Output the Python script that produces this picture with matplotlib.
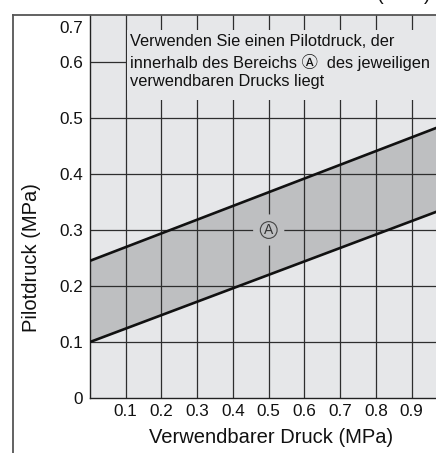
import matplotlib
matplotlib.use("Agg")
import matplotlib.pyplot as plt
from matplotlib.patches import Rectangle
from matplotlib.lines import Line2D

# ---- data ----
x_pressure = [0.0, 1.0]                 # Verwendbarer Druck (MPa)
lower_pilot = [0.10, 0.34]              # lower limit of pilot pressure
upper_pilot = [0.245, 0.49]             # upper limit of pilot pressure
x_ticks = [0.1, 0.2, 0.3, 0.4, 0.5, 0.6, 0.7, 0.8, 0.9]
x_ticklabels = ["0.1", "0.2", "0.3", "0.4", "0.5", "0.6", "0.7", "0.8", "0.9"]
y_ticklabels = ["0", "0.1", "0.2", "0.3", "0.4", "0.5", "0.6", "0.7"]
y_grid_full = [0.1, 0.2, 0.3, 0.4, 0.5]
note = ("Verwenden Sie einen Pilotdruck, der\n"
        "innerhalb des Bereichs \u24b6  des jeweiligen\n"
        "verwendbaren Drucks liegt")
region_label = "A"
region_pos = (0.5, 0.3)

FONT = ["Liberation Sans", "Noto Sans CJK JP", "DejaVu Sans"]
plt.rcParams["font.family"] = FONT

BG = "#e6e7e9"
BAND = "#bebfc1"
GRID = "#2e2e2e"
TXT = "#111111"

fig = plt.figure(figsize=(4.36, 4.53), dpi=100)
ax = fig.add_axes([90 / 436, 55 / 453, 346 / 436, 383 / 453])
ax.set_facecolor(BG)
XMAX = 0.968
YMAX = 0.684
ax.set_xlim(0, XMAX)
ax.set_ylim(0, YMAX)

# band
ax.fill_between(x_pressure, lower_pilot, upper_pilot, color=BAND, zorder=0.5, lw=0)

# grid
for yv in y_grid_full:
    ax.axhline(yv, color=GRID, lw=0.9, zorder=1)
ax.plot([0, x_ticks[0]], [0.6, 0.6], color=GRID, lw=0.9, zorder=1)
for xv in x_ticks:
    ax.axvline(xv, color=GRID, lw=0.9, zorder=1)

# mask behind the note
ax.add_patch(Rectangle((x_ticks[0] + 0.004, 0.533), XMAX, 0.657 - 0.533,
                       facecolor=BG, edgecolor="none", zorder=1.5))

# boundary lines
ax.plot(x_pressure, lower_pilot, color="#111111", lw=1.9, zorder=3, solid_capstyle="butt")
ax.plot(x_pressure, upper_pilot, color="#111111", lw=1.9, zorder=3, solid_capstyle="butt")

# circled A in band
ax.text(*region_pos, region_label, ha="center", va="center", fontsize=10, color=BAND,
        bbox=dict(boxstyle="circle,pad=0.62", fc=BAND, ec="none"), zorder=2)
ax.text(*region_pos, region_label, ha="center", va="center", fontsize=10, color="#333333",
        bbox=dict(boxstyle="circle,pad=0.1", fc=BAND, ec="#444444", lw=0.8), zorder=2.5)

# note
ax.text(0.112, 0.650, note, ha="left", va="top", fontsize=11.8, color=TXT,
        linespacing=1.32, zorder=4)

# ticks
ax.set_xticks(x_ticks)
ax.set_xticklabels(x_ticklabels)
y_tick_pos = [0, 0.1, 0.2, 0.3, 0.4, 0.5, 0.6, 0.6625]
ax.set_yticks(y_tick_pos)
ax.set_yticklabels(y_ticklabels)
ax.tick_params(axis="both", length=0, labelsize=12.3, colors=TXT)
ax.tick_params(axis="x", pad=4)
ax.tick_params(axis="y", pad=5)

ax.set_xlabel("Verwendbarer Druck (MPa)", fontsize=14.5, color=TXT)
ax.xaxis.label.set_va("center")
ax.xaxis.set_label_coords(0.523, -0.102)
ax.set_ylabel("Pilotdruck (MPa)", fontsize=14.5, color=TXT)
ax.yaxis.label.set_va("center")
ax.yaxis.set_label_coords(-0.168, 0.366)

for s in ["right", "top"]:
    ax.spines[s].set_visible(False)
for s in ["left", "bottom"]:
    ax.spines[s].set_color("#222222")
    ax.spines[s].set_linewidth(1.0)

# outer frame
fx = 13 / 436
fy = 1 - 14.5 / 453
fig.add_artist(Line2D([fx, fx], [0, fy], transform=fig.transFigure, color="#555555", lw=1.3))
fig.add_artist(Line2D([fx, 1.0], [fy, fy], transform=fig.transFigure, color="#555555", lw=1.3))

# unit text at top right, cut off by the top edge as in the reference
fig.text(404 / 436, 1.0, "(MPa)", ha="center", va="baseline", fontsize=14.5, color=TXT)

fig.savefig("out.png", dpi=100)
